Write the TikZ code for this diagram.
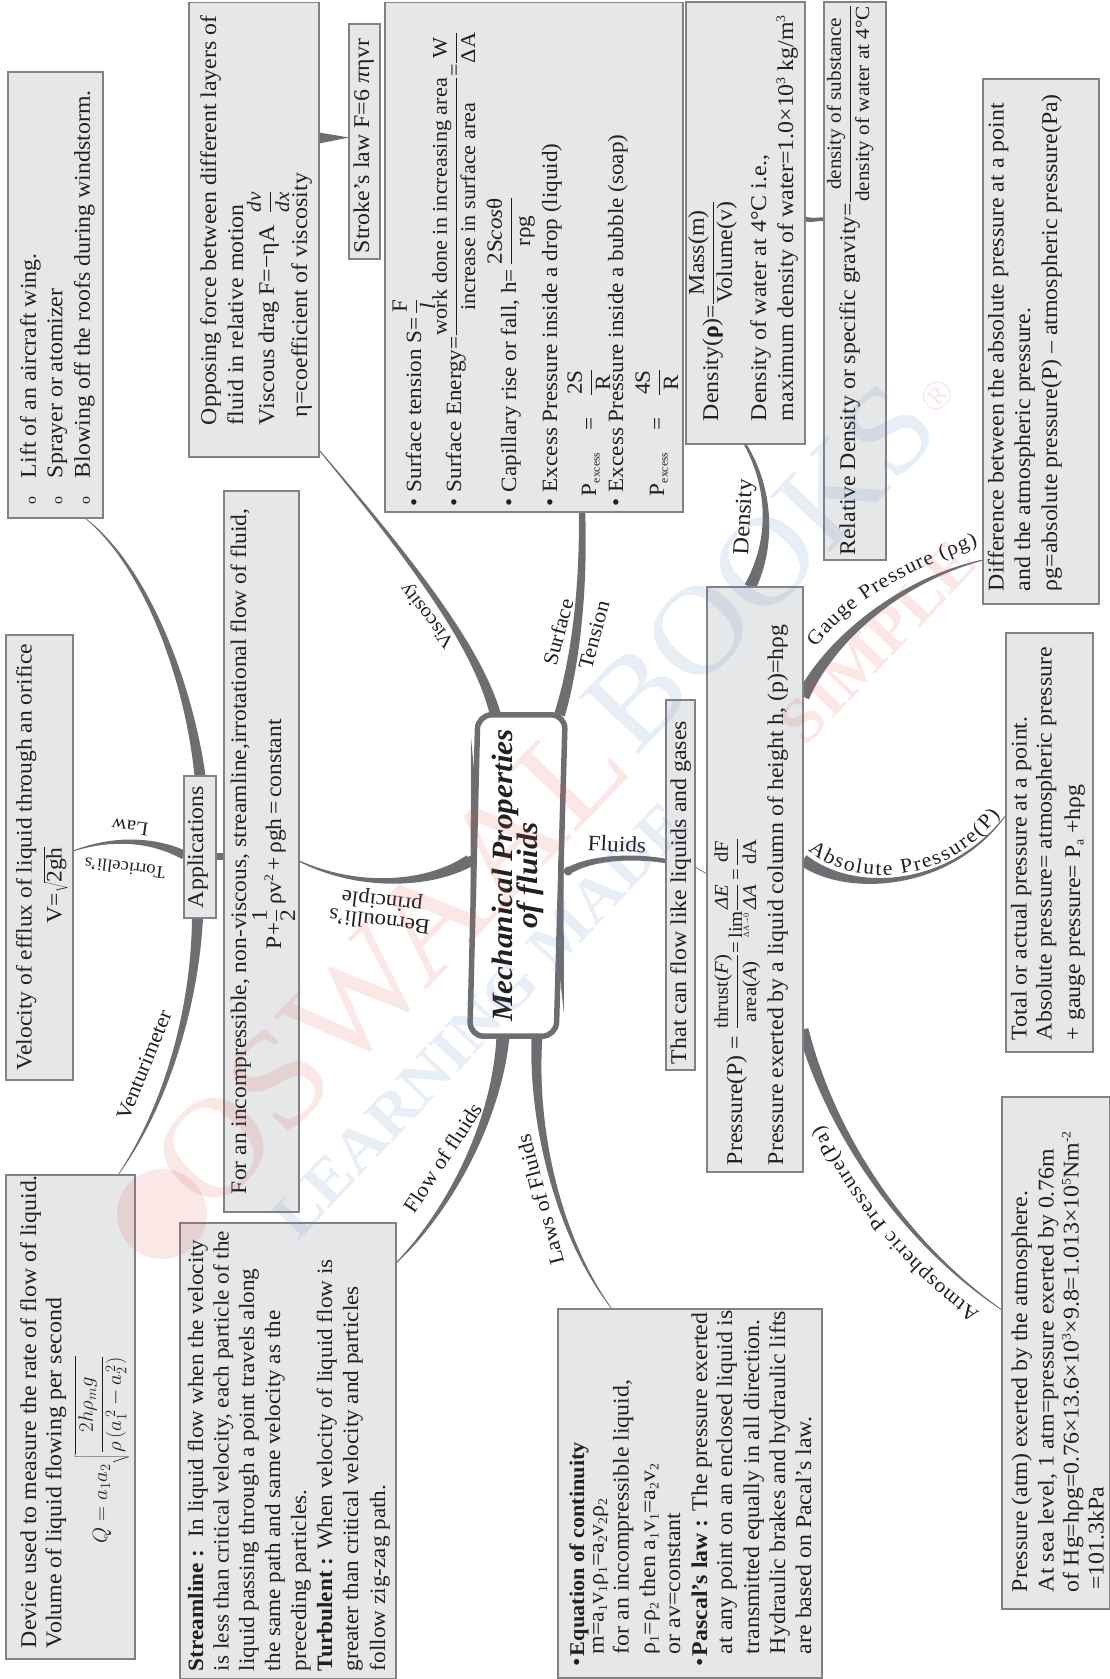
\documentclass[tikz,border=0pt]{standalone}
\usepackage{fontspec}
\usepackage{graphicx}
\setmainfont[FakeStretch=1.06]{Liberation Serif}
\usetikzlibrary{calc,decorations.text}
\pgfdeclarelayer{bg}\pgfsetlayers{bg,main}
\definecolor{boxfill}{HTML}{E6E7E8}
\definecolor{boxline}{HTML}{808285}
\definecolor{connc}{HTML}{6D6E71}
\definecolor{ink}{HTML}{231F20}
\definecolor{wred}{HTML}{D9534F}
\definecolor{wblue}{HTML}{5B85C0}
\tikzset{
 boxst/.style={draw=boxline,fill=boxfill,line width=1.1pt,inner sep=0pt,outer sep=0pt,rectangle,text=ink,font=\fontsize{22.5}{26}\selectfont},
 conn/.style={fill=connc,draw=none},
 lab/.style={inner sep=0pt,text=ink,font=\fontsize{21}{23}\selectfont,align=center},
 wmr/.style={text=wred,opacity=.14,inner sep=0pt,rotate=46.5},
 wmb/.style={text=wblue,opacity=.14,inner sep=0pt,rotate=46.5},
}
\newcommand\Ln[3]{\vskip#1pt\hbox to\hsize{\hskip#2pt\smash{#3}\hss}}
\newcommand\Fr[2]{$\displaystyle\frac{\mbox{#1}}{\mbox{#2}}$}
\newcommand\sbx[1]{\raisebox{-3.5pt}{\fontsize{13}{13}\selectfont #1}}
\newcommand\spx[1]{\raisebox{8pt}{\fontsize{13}{13}\selectfont #1}}
\newcommand\bx[6]{%
 \pgfmathsetlengthmacro\bW{#4-#2}\pgfmathsetlengthmacro\bH{#5-#3}%
 \pgfmathsetmacro\bX{(#2+#4)/2}\pgfmathsetmacro\bY{(#3+#5)/2}%
 \node[boxst,minimum width=\bW,minimum height=\bH] (#1) at (\bX,\bY)
 {\rotatebox{90}{\vbox to \bW{\hsize=\bH\parindent=0pt\offinterlineskip #6\vss}}};}
\newcommand\taper[6]{%
 \pgfmathsetmacro\wa{#5}\pgfmathsetmacro\wb{#6}%
 \pgfmathsetmacro\wc{.65*#5+.35*#6}\pgfmathsetmacro\wd{.35*#5+.65*#6}%
 \fill[conn] ($(#1)!\wa pt!90:(#2)$) .. controls ($(#2)!\wc pt!-90:(#1)$) and ($(#3)!\wd pt!90:(#4)$) .. ($(#4)!\wb pt!-90:(#3)$) -- ($(#4)!\wb pt!90:(#3)$) .. controls ($(#3)!\wd pt!-90:(#4)$) and ($(#2)!\wc pt!90:(#1)$) .. ($(#1)!\wa pt!-90:(#2)$) -- cycle;}
\newcommand\lblf{\fontsize{20.5}{20}\selectfont\color{ink}}
\newcommand\blt[1]{\hbox to #1pt{•\hss}}
\newcommand\smo{\hbox to 26pt{\fontsize{15}{15}\selectfont o\hss}}
\newcommand\fsD{\fontsize{21.8}{26}\selectfont}
\newcommand\fsF{\fontsize{20}{24}\selectfont}
\begin{document}
\begin{tikzpicture}[x=1pt,y=-1pt]
\useasboundingbox (0,0) rectangle (1110,1679);

\bx{A}{8}{72}{103}{518}{%
 \Ln{28}{14}{\smo Lift of an aircraft wing.}
 \Ln{26.5}{14}{\smo Sprayer or atomizer}
 \Ln{27.5}{14}{\smo Blowing off the roofs during windstorm.}}
\bx{B}{189}{2.5}{319}{457}{%
 \Ln{27}{32}{Opposing force between different layers of}
 \Ln{27}{32}{fluid in relative motion}
 \Ln{31}{32}{Viscous drag F=−ηA\ \ \raisebox{-1pt}{\fsF\Fr{\textit{dv}}{\textit{dx}}}}
 \Ln{33}{40}{η=coefficient of viscosity}}
\bx{C}{349}{24}{380}{259}{%
 \Ln{20}{6}{Stroke’s law F=6 \textit{π}ηvr}}
\bx{D}{385}{2.5}{683}{512}{\fsD%
 \Ln{36}{6}{• Surface tension S=\,\Fr{F}{\textit{l}}}
 \Ln{40}{6}{• Surface Energy=\fontsize{21}{26}\selectfont\Fr{work done in increasing area}{increase in surface area}=\Fr{W}{ΔA}}
 \Ln{55}{6}{• Capillary rise or fall, h=\,\Fr{2S\textit{cos}θ}{rρg}}
 \Ln{41}{6}{• Excess Pressure inside a drop (liquid)}
 \Ln{39}{16}{P\sbx{\fontsize{11}{11}\selectfont excess}\quad =\quad\Fr{2S}{R}}
 \Ln{27}{6}{• Excess Pressure inside a bubble (soap)}
 \Ln{41}{16}{P\sbx{\fontsize{11}{11}\selectfont excess}\quad =\quad\Fr{4S}{R}}}
\bx{E}{686}{2}{805}{444}{%
 \Ln{32}{23}{Density(\textbf{ρ})=\Fr{Mass(m)}{Volume(v)}}
 \Ln{48}{23}{Density of water at 4°C i.e.,}
 \Ln{27}{23}{maximum density of water=1.0×10\spx{3} kg/m\spx{3}}}
\bx{F}{824}{2}{886}{560}{%
 \Ln{31}{4.5}{Relative Density or specific gravity=\fsF\Fr{density of substance}{density of water at 4°C}}}
\bx{G}{983}{79}{1099}{604}{%
 \Ln{20.6}{13}{Difference between the absolute pressure at a point}
 \Ln{26.4}{13}{and the atmospheric pressure.}
 \Ln{27}{13}{ρg=absolute pressure(P) – atmospheric pressure(Pa)}}
\bx{H}{224}{491}{299}{1212}{\fontsize{22.2}{26}\selectfont%
 \Ln{22}{18}{For an incompressible, non-viscous, streamline,irrotational flow of fluid,}
 \Ln{35}{263}{P+\Fr{1}{2}\,ρv\spx{2}\,+\,ρgh\,=\,constant}}
\bx{I}{666}{700}{695}{1070}{%
 \Ln{20}{6}{That can flow like liquids and gases}}
\bx{J}{707}{587}{803}{1172}{%
 \Ln{35}{7}{Pressure(P) = \fontsize{19.5}{24}\selectfont\Fr{thrust(\textit{F})}{area(\textit{A})}=\,$\mathop{\mbox{lim}}\limits_{\mbox{\fontsize{8}{8}\selectfont ΔA→0}}$\Fr{\textit{ΔE}}{\textit{ΔA}}\,=\,\Fr{dF}{dA}}
 \Ln{41}{7}{Pressure exerted by a liquid column of height h, (p)=hρg}}
\bx{K}{1006}{633}{1093}{1052}{%
 \Ln{20.7}{12}{Total or actual pressure at a point.}
 \Ln{25}{12}{Absolute pressure= atmospheric pressure}
 \Ln{28.3}{12}{+ gauge pressure= P\sbx{a} +hρg}}
\bx{L}{1002}{1097}{1110}{1609}{%
 \Ln{25}{17}{Pressure (atm) exerted by the atmosphere.}
 \Ln{26.6}{17}{At sea level, 1 atm=pressure exerted by 0.76m}
 \Ln{25}{17}{of Hg=hρg=0.76×13.6×10\spx{3}×9.8=1.013×10\spx{5}Nm\spx{-2}}
 \Ln{25}{19.5}{=101.3kPa}}
\bx{M}{558}{1309}{822}{1678}{%
 \Ln{26}{12}{\blt{10}\fontsize{21}{26}\selectfont\textbf{Equation of continuity}}
 \Ln{19.6}{24}{m=a\sbx{1}v\sbx{1}ρ\sbx{1}=a\sbx{2}v\sbx{2}ρ\sbx{2}}
 \Ln{25}{24}{for an incompressible liquid,}
 \Ln{26.4}{24}{ρ\sbx{1}=ρ\sbx{2} then a\sbx{1}v\sbx{1}=a\sbx{2}v\sbx{2}}
 \Ln{25}{24}{or av=constant}
 \Ln{27}{12}{\blt{10}\textbf{Pascal’s law :} The pressure exerted}
 \Ln{25}{24}{at any point on an enclosed liquid is}
 \Ln{27}{24}{transmitted equally in all direction.}
 \Ln{26}{24}{Hydraulic brakes and hydraulic lifts}
 \Ln{26}{24}{are based on Pacal’s law.}}
\bx{N}{6}{1175}{135}{1659}{%
 \Ln{30}{11}{Device used to measure the rate of flow of liquid.}
 \Ln{25.4}{11}{Volume of liquid flowing per second}
 \Ln{45.6}{116}{$Q=a_1a_2\sqrt{\displaystyle\frac{2h\rho_m g}{\rho\left(a_1^{\,2}-a_2^{\,2}\right)}}$}}
\bx{O}{180}{1223}{396}{1679}{\fontsize{21.9}{26}\selectfont%
 \Ln{23}{8}{\textbf{Streamline :}\ \ In liquid flow when the velocity}
 \Ln{25.6}{8}{is less than critical velocity, each particle of the}
 \Ln{25.4}{8}{liquid passing through a point travels along}
 \Ln{26}{8}{the same path and same velocity as the}
 \Ln{26}{8}{preceding particles.}
 \Ln{26}{8}{\textbf{Turbulent :} When velocity of liquid flow is}
 \Ln{26}{8}{greater than critical velocity and particles}
 \Ln{27}{8}{follow zig-zag path.}}
\bx{P}{6}{635}{73}{1080}{\fontsize{22.2}{26}\selectfont%
 \Ln{25.7}{10}{Velocity of efflux of liquid through an orifice}
 \Ln{30}{157}{V=$\sqrt{\mbox{2gh}}$}}
\bx{Apps}{184}{776}{216}{918}{%
 \Ln{19}{10}{Applications}}

\node[inner sep=0pt,minimum width=95pt,minimum height=321pt,text=ink] (c) at (517.5,875.5)
 {\rotatebox{90}{\raisebox{-3pt}{\begin{tabular}{@{}c@{}}\fontsize{29.5}{36}\selectfont\bfseries\itshape Mechanical Properties\\[-2pt]\fontsize{29.5}{36}\selectfont\bfseries\itshape of fluids\end{tabular}}}};

\draw[line width=5.5pt,draw=connc,rounded corners=14pt]
 ($(c.north west)+(8,0)$) -- (c.north east) -- ($(c.south east)+(-9,0)$) -- (c.south west) -- cycle;
\fill[conn] (471,738) -- (476,790) -- (476,900) -- (470.5,900) -- cycle;
\fill[conn] (564,1014) -- (558,960) -- (558,860) -- (563.5,860) -- cycle;

\coordinate (viA) at ($(c.north)+(-22,0)$);
\coordinate (viB) at ($(B.south east)+(0,-7)$);
\coordinate (suA) at ($(c.north)+(42,0)$);
\coordinate (suB) at ($(D.south)+(48,0)$);
\coordinate (flA) at ($(c.east)+(3,-4.5)$);
\coordinate (flB) at ($(I.west)+(0,-24)$);
\coordinate (beA) at ($(c.west)+(0,-15)$);
\coordinate (beB) at ($(H.east)+(0,9.5)$);
\coordinate (apU) at (Apps.north);
\coordinate (aB) at ($(A.south)+(29.5,0)$);
\coordinate (apD) at ($(Apps.south)+(-2.5,0)$);
\coordinate (nB) at ($(N.north)+(47.5,0)$);
\coordinate (toA) at ($(Apps.west)+(0,8)$);
\coordinate (toB) at ($(P.east)+(0,-6.5)$);
\coordinate (foA) at ($(c.south)+(-14.5,0)$);
\coordinate (foB) at ($(O.east)+(0,-188)$);
\coordinate (laA) at ($(c.south)+(19.5,0)$);
\coordinate (laB) at ($(M.north)+(-78,0)$);
\coordinate (deA) at ($(J.north)+(-5,0)$);
\coordinate (deB) at ($(E.south)+(-.5,0)$);
\coordinate (efA) at ($(E.east)+(0,-4)$);
\coordinate (efB) at ($(F.west)+(0,-62)$);
\coordinate (gaA) at ($(J.east)+(0,-183)$);
\coordinate (gaB) at ($(G.west)+(0,218.5)$);
\coordinate (abA) at ($(J.east)+(0,-19.5)$);
\coordinate (abB) at ($(K.west)+(0,-27.5)$);
\coordinate (atA) at ($(J.east)+(0,150)$);
\coordinate (atB) at ($(L.west)+(0,-43)$);

\begin{pgfonlayer}{bg}
\taper{viA}{478,650}{420,570}{viB}{5.5}{.5}
\taper{suA}{575,665}{584,590}{suB}{5.5}{3.2}
\taper{flA}{590,858}{630,855}{flB}{3.5}{2.2}
\fill[conn] (flA) circle (4.5);
\draw[connc,line width=.7pt] ($(I.east)+(0,-18)$) -- ($(J.west)+(0,-5.5)$);
\taper{beA}{430,885}{360,890}{beB}{6}{.6}
\fill[conn] (beA) circle (4.5);
\draw[connc,line width=7pt] ($(Apps.east)+(0,9)$) -- ($(H.west)+(0,4.5)$);
\taper{apU}{190,690}{150,570}{aB}{5.5}{.3}
\taper{apD}{195,1000}{170,1100}{nB}{5.5}{.3}
\taper{toA}{150,838}{110,838}{toB}{4.5}{.4}
\taper{foA}{497,1120}{450,1210}{foB}{6.5}{.5}
\taper{laA}{532,1130}{560,1240}{laB}{5.5}{.3}
\taper{deA}{772,545}{772,490}{deB}{6}{1.2}
\taper{efA}{812,221}{818,219}{efB}{2.4}{1.6}
\fill[conn] (319,132.5) -- (319,143.5) -- ($(C.west)+(0,-4)$) -- cycle;
\taper{gaA}{830,640}{900,580}{gaB}{6.5}{.5}
\taper{abA}{850,895}{950,890}{abB}{6}{.4}
\taper{atA}{830,1130}{900,1240}{atB}{5.5}{.4}
\end{pgfonlayer}

\node[lab,rotate=128,font=\fontsize{19.5}{22}\selectfont] (lv) at (428,615) {Viscosity};
\node[lab,rotate=75] (ls1) at (558,632) {Surface};
\node[lab,rotate=75] (ls2) at (594,635) {Tension};
\node[lab,rotate=87,font=\fontsize{23}{25}\selectfont] (ld) at (745,517) {Density};
\node[lab,rotate=-3,font=\fontsize{22}{24}\selectfont] (lf) at (617,844) {Fluids};
\node[lab,rotate=173,font=\fontsize{21.5}{20}\selectfont] (lb) at (381,910) {Bernoulli’s\\principle};
\node[lab,rotate=172,font=\fontsize{19.5}{20}\selectfont] (ll) at (130,827) {Law};
\node[lab,rotate=173,font=\fontsize{17.5}{20}\selectfont] (lt) at (125,868) {Torricelli’s};
\node[lab,rotate=68] (lvm) at (144,1065) {Venturimeter};
\node[lab,rotate=57] (lfo) at (443,1158) {Flow of fluids};
\node[lab,rotate=105] (lla) at (540,1200) {Laws of Fluids};

\path[decorate,decoration={text along path,text align={fit to path},text={|\lblf|Absolute Pressure(P)}}]
 (808,850) .. controls (850,888) and (945,888) .. (1000,815);
\path[decorate,decoration={text along path,text align={fit to path},text={|\lblf|Gauge Pressure (ρg)}}]
 (816,648) .. controls (850,600) and (910,570) .. (978,545);
\path[decorate,decoration={text along path,text align={fit to path},text={|\lblf|Atmospheric Pressure(Pa)}}]
 (980,1312) .. controls (910,1265) and (855,1190) .. (822,1125);

% watermark
\fill[wred,opacity=.14] (162,1214) circle (45);
\node[wmr,font=\fontsize{140}{140}\selectfont] (w1) at (390,963) {OSWAAL};
\node[wmb,font=\fontsize{125}{125}\selectfont] (w2) at (760,567) {BOOKS};
\node[wmr,font=\fontsize{40}{40}\selectfont] (w3) at (937,396) {®};
\node[wmb,font=\fontsize{62}{62}\selectfont\bfseries] (w4) at (480,1020) {LEARNING MADE};
\node[wmr,font=\fontsize{62}{62}\selectfont\bfseries] (w5) at (878,642) {SIMPLE};
\end{tikzpicture}
\end{document}
